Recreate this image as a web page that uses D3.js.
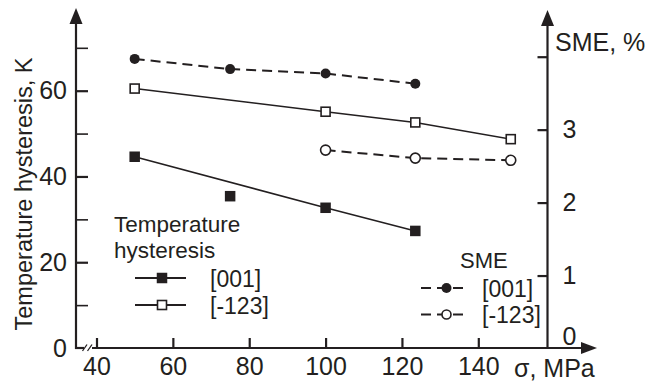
<!DOCTYPE html>
<html><head><meta charset="utf-8">
<script src="https://cdn.jsdelivr.net/npm/d3@7"></script>
<style>
html,body{margin:0;padding:0;background:#fff;}
svg{display:block;font-family:"Liberation Sans",Arial,Helvetica,sans-serif;}
</style></head>
<body>
<svg id="c" width="651" height="387"></svg>
<script>
// ---- data ----
const stress = [50, 75, 100, 123.5, 148.5];
const hyst001 = [44.6, 35.4, 32.7, 27.3, null];
const hyst001OnLine = [true, false, true, true, false];
const hyst123 = [60.5, null, 55.1, 52.6, 48.7];
const sme001 = [3.97, 3.83, 3.77, 3.63, null];
const sme123 = [null, null, 2.72, 2.61, 2.58];
const xTicks = [40, 60, 80, 100, 120, 140];
const yLeftTicks = [0, 10, 20, 30, 40, 50, 60, 70];
const yLeftLabels = [0, 20, 40, 60];
const yRightTicks = [0, 1, 2, 3, 4];
const yRightLabels = [0, 1, 2, 3];
const legendHyst = ["[001]", "[-123]"];
const legendSme = ["[001]", "[-123]"];

const ink = "#231f20";
const svg = d3.select("#c");

const x = d3.scaleLinear().domain([40, 140]).range([96.5, 478.3]);
const yL = d3.scaleLinear().domain([0, 60]).range([348, 90.7]);
const yR = d3.scaleLinear().domain([0, 4]).range([348.5, 56.7]);

const axisY0 = 348, leftX = 76, rightX = 547.5;

// ---- axes ----
const gx = svg.append("g").attr("transform", `translate(0,${axisY0})`)
  .call(d3.axisBottom(x).tickValues(xTicks).tickSizeInner(-10).tickSizeOuter(0).tickPadding(9));
const gl = svg.append("g").attr("transform", `translate(${leftX},0)`)
  .call(d3.axisLeft(yL).tickValues(yLeftTicks).tickSizeInner(-12).tickSizeOuter(0).tickPadding(9)
    .tickFormat(d => yLeftLabels.includes(d) ? d : ""));
const gr = svg.append("g").attr("transform", `translate(${rightX},0)`)
  .call(d3.axisRight(yR).tickValues(yRightTicks).tickSizeInner(-10).tickSizeOuter(0).tickPadding(15)
    .tickFormat(d => yRightLabels.includes(d) ? d : ""));

[gx, gl, gr].forEach(g => {
  g.select(".domain").remove();
  g.selectAll(".tick line").attr("stroke", ink).attr("stroke-width", 2.2);
  g.selectAll(".tick text").attr("fill", ink).attr("font-size", 25)
    .attr("font-family", "'Liberation Sans',Arial,sans-serif");
});
gl.selectAll(".tick").filter(d => d === 0).select("line").remove();
gl.selectAll(".tick").filter(d => d % 20 !== 0).select("line").attr("stroke-width", 1.6);
gr.selectAll(".tick").filter(d => d === 0).select("line").remove();
gr.selectAll(".tick").filter(d => d === 0).select("text").attr("dy", "-0.15em");

// axis lines
const axes = svg.append("g").attr("stroke", ink).attr("stroke-width", 2.2).attr("fill", "none");
axes.append("line").attr("x1", leftX).attr("x2", leftX).attr("y1", axisY0 + 1).attr("y2", 20);
axes.append("line").attr("x1", rightX).attr("x2", rightX).attr("y1", axisY0).attr("y2", 22);
axes.append("line").attr("x1", leftX - 1).attr("x2", 84).attr("y1", axisY0).attr("y2", axisY0);
axes.append("line").attr("x1", 92).attr("x2", 586).attr("y1", axisY0).attr("y2", axisY0);
// break marks
axes.append("line").attr("x1", 82.5).attr("y1", 351).attr("x2", 87).attr("y2", 344.5).attr("stroke-width", 1.3);
axes.append("line").attr("x1", 87.5).attr("y1", 351).attr("x2", 92).attr("y2", 344.5).attr("stroke-width", 1.3);
// arrows
const arr = svg.append("g").attr("fill", ink);
arr.append("path").attr("d", `M${leftX},8 L${leftX - 6.5},24 L${leftX + 6.5},24 Z`);
arr.append("path").attr("d", `M${rightX},10 L${rightX - 6.5},26 L${rightX + 6.5},26 Z`);
arr.append("path").attr("d", `M597,${axisY0} L581,${axisY0 - 6} L581,${axisY0 + 6} Z`);

// axis titles
svg.append("text").attr("transform", "translate(32,194) rotate(-90)")
  .attr("text-anchor", "middle").attr("font-size", 23.5).attr("fill", ink)
  .text("Temperature hysteresis, K");
svg.append("text").attr("x", 555).attr("y", 51).attr("font-size", 25).attr("fill", ink).text("SME, %");
svg.append("text").attr("x", 514).attr("y", 377).attr("font-size", 25).attr("fill", ink).text("σ, MPa");

// ---- data series ----
const pts = (ys, yS) => stress.map((s, i) => ({x: s, y: ys[i], i})).filter(d => d.y != null);
const line = yS => d3.line().x(d => x(d.x)).y(d => yS(d.y));
const plot = svg.append("g");

// hysteresis [001]
plot.append("path").datum(pts(hyst001).filter(d => hyst001OnLine[d.i]))
  .attr("d", line(yL)).attr("fill", "none").attr("stroke", ink).attr("stroke-width", 1.6);
// hysteresis [-123]
plot.append("path").datum(pts(hyst123)).attr("d", line(yL))
  .attr("fill", "none").attr("stroke", ink).attr("stroke-width", 1.6);
// SME [001]
plot.append("path").datum(pts(sme001)).attr("d", line(yR))
  .attr("fill", "none").attr("stroke", ink).attr("stroke-width", 2).attr("stroke-dasharray", "10,6");
// SME [-123]
plot.append("path").datum(pts(sme123)).attr("d", line(yR))
  .attr("fill", "none").attr("stroke", ink).attr("stroke-width", 2).attr("stroke-dasharray", "10,6");

const sq = 10.5;
plot.selectAll(".fsq").data(pts(hyst001)).join("rect")
  .attr("x", d => x(d.x) - sq / 2).attr("y", d => yL(d.y) - sq / 2)
  .attr("width", sq).attr("height", sq).attr("fill", ink);
plot.selectAll(".osq").data(pts(hyst123)).join("rect")
  .attr("x", d => x(d.x) - 4.5).attr("y", d => yL(d.y) - 4.5)
  .attr("width", 9).attr("height", 9).attr("fill", "#fff").attr("stroke", ink).attr("stroke-width", 1.6);
plot.selectAll(".fc").data(pts(sme001)).join("circle")
  .attr("cx", d => x(d.x)).attr("cy", d => yR(d.y)).attr("r", 5).attr("fill", ink);
plot.selectAll(".oc").data(pts(sme123)).join("circle")
  .attr("cx", d => x(d.x)).attr("cy", d => yR(d.y)).attr("r", 5)
  .attr("fill", "#fff").attr("stroke", ink).attr("stroke-width", 1.6);

// ---- legends ----
const lg = svg.append("g").attr("fill", ink);
lg.append("text").attr("x", 114).attr("y", 232).attr("font-size", 22.5).text("Temperature");
lg.append("text").attr("x", 114).attr("y", 258).attr("font-size", 22.5).text("hysteresis");
legendHyst.forEach((t, i) => {
  const yy = 278 + i * 27;
  lg.append("line").attr("x1", 135).attr("x2", 186).attr("y1", yy).attr("y2", yy)
    .attr("stroke", ink).attr("stroke-width", 1.8);
  if (i === 0) lg.append("rect").attr("x", 162 - 5.25).attr("y", yy - 5.25).attr("width", 10.5).attr("height", 10.5).attr("fill", ink);
  else lg.append("rect").attr("x", 162 - 4.5).attr("y", yy - 4.5).attr("width", 9).attr("height", 9)
    .attr("fill", "#fff").attr("stroke", ink).attr("stroke-width", 1.6);
  lg.append("text").attr("x", 210).attr("y", yy + 8.5).attr("font-size", 23).text(t);
});
lg.append("text").attr("x", 460).attr("y", 268).attr("font-size", 22).text("SME");
legendSme.forEach((t, i) => {
  const yy = 288 + i * 26.5;
  lg.append("line").attr("x1", 421).attr("x2", 466).attr("y1", yy).attr("y2", yy)
    .attr("stroke", ink).attr("stroke-width", 2).attr("stroke-dasharray", "10,6");
  if (i === 0) lg.append("circle").attr("cx", 446.5).attr("cy", yy).attr("r", 5).attr("fill", ink);
  else lg.append("circle").attr("cx", 446.5).attr("cy", yy).attr("r", 4.5)
    .attr("fill", "#fff").attr("stroke", ink).attr("stroke-width", 1.6);
  lg.append("text").attr("x", 482).attr("y", yy + 8.5).attr("font-size", 23).text(t);
});
</script>
</body></html>
